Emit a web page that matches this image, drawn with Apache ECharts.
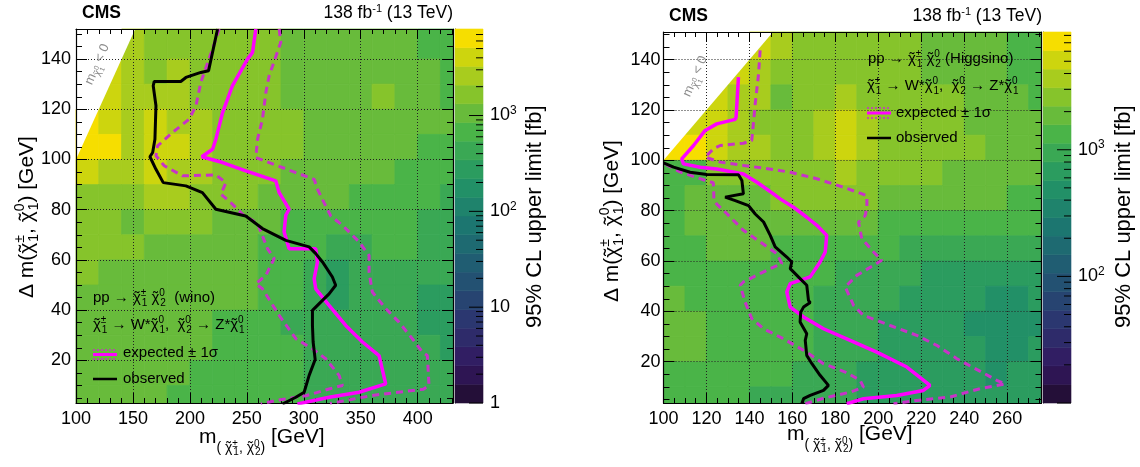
<!DOCTYPE html>
<html><head><meta charset="utf-8">
<script src="https://cdn.jsdelivr.net/npm/echarts@6/dist/echarts.min.js"></script>
<style>html,body{margin:0;padding:0;background:#fff}#c{width:1140px;height:467px}</style>
</head><body><div id="c"></div>
<script>
const FONT = "'Liberation Sans', Arial, Helvetica, sans-serif";

// ---------------- LEFT PANEL (wino) ----------------
const leftXEdges = [100,120,140,160,180,200,220,240,260,280,300,320,340,360,380,400,420,440];
const leftYEdges = [0,10,20,30,40,50,60,70,80,90,100,110,120,130,140,160];
// 95% CL upper limit [fb], rows from top (140-160) to bottom (0-10)
const leftLimitRows = [
  [null,null,2600,1650,1650,1650,1650,1650,1650,1050,1050,1050,1050,1050,1050,680,680],
  [null,4100,2600,1650,2600,1650,1650,1650,1650,1050,1050,1050,1050,1050,1050,1050,680],
  [null,4100,2600,2600,2600,1650,1650,1650,1650,1050,1050,1050,1050,1650,1050,1050,680],
  [6300,4100,2600,4100,2600,2600,1650,1650,1650,1650,1050,1050,1050,1050,1050,1050,1050],
  [6300,6300,2600,4100,4100,2600,1650,1650,1650,1650,1050,1050,1050,1050,1050,680,680],
  [4100,2600,2600,4100,2600,2600,1650,1650,1650,1050,1050,1050,1050,1050,680,680,680],
  [1650,1650,1650,2600,2600,1650,1650,1650,1050,1050,1050,1050,680,680,680,680,430],
  [1650,1650,1050,1650,1650,1650,1050,1050,1050,680,680,680,680,680,680,430,430],
  [1650,1650,1650,1050,1050,1050,1050,1050,680,680,680,430,430,680,680,430,430],
  [1650,1050,1050,1050,1050,1050,1050,1050,680,680,430,280,430,430,430,430,430],
  [1050,1050,1050,1050,1050,1050,1050,1050,680,680,430,280,430,430,430,280,280],
  [1050,1050,1050,1050,1050,1050,680,680,680,430,430,430,430,430,430,280,280],
  [1050,1050,1050,1050,1050,1050,680,680,680,680,430,430,430,430,430,430,280],
  [1050,1050,1050,1050,1050,680,680,680,680,680,430,430,430,430,430,430,430],
  [1050,1050,1050,1050,680,680,680,680,680,680,430,430,430,430,430,430,430]
];
const leftLevels = [1,1.567,2.456,3.849,6.034,9.457,14.82,23.23,36.41,57.07,89.44,140.2,219.7,344.4,539.8,845.9,1326,2078,3256,5104,7998];
const leftColorbarTicks = [1,2,3,4,5,6,7,8,9,10,20,30,40,50,60,70,80,90,100,200,300,400,500,600,700,800,900,1000,2000,3000,4000,5000,6000,7000];
const leftUnphysical = [[100,100],[152,152],[100,152]];
const leftObserved = [[224.3,152],[216.4,135.4],[209.6,134.7],[196.5,132.7],[192,131.1],[168.7,131.1],[167.8,129.4],[170.2,121.4],[169.3,108.1],[167.3,102.8],[164.9,101.1],[170.2,96.1],[176.6,90.8],[196.5,89.5],[211,86.8],[222.8,80.2],[249,77.5],[263.7,72.5],[284.2,67.8],[304.7,65.2],[310.5,62.5],[316.4,59.2],[325.1,53.2],[328,49.9],[322.2,46.5],[316.4,43.9],[307.6,39.9],[307.6,33.9],[308.2,27.3],[310,20.3],[304.7,14],[300.3,7.3],[293,5.3],[281.3,2.6]];
const leftExpected = [[257.9,152],[255,142.7],[250.6,140],[237.4,129.4],[228.7,118.7],[222.8,108.1],[219.9,104.1],[210.5,101.1],[228.7,98.8],[249.1,95.5],[275.4,91.5],[278.4,86.8],[287.1,80.2],[284.2,77.8],[282.7,71.2],[287.1,64.5],[310.5,64.5],[312,59.2],[309.1,52.5],[310.5,48.5],[322.2,41.9],[336.8,33.9],[351.5,27.3],[366.1,21.9],[371.9,10.6],[348.5,7.3],[322.2,5.3],[294.4,2.6]];
const leftExpectedMinus = [[225.7,152],[219.9,144],[212.6,134.7],[209.6,130.7],[205.3,121.4],[199.4,116.1],[184.8,110.8],[171.6,105.4],[170.2,101.5],[177.5,97.5],[193.6,93.5],[222.8,93.9],[231.6,90.8],[227.2,86.2],[236,82.8],[246.2,78.2],[259.4,74.5],[268.1,64.5],[274,60.5],[266.7,53.9],[257.9,50.5],[263.7,48.5],[278.4,37.9],[293,28.6],[307.6,24.6],[319.3,20.6],[331,14],[333.9,10],[322.2,8.6],[301.8,5.9],[275.4,4],[262.3,2.6]];
const leftExpectedPlus = [[278.4,152],[279.8,146.7],[269.6,133.4],[266.7,126.7],[263.7,116.1],[259.4,108.1],[257.9,100.8],[269.6,98.8],[293,94.8],[309.1,92.1],[312,88.2],[317.8,82.8],[323.7,77.5],[333.9,73.8],[348.5,67.2],[357.3,61.8],[357.3,55.2],[360.2,47.2],[371.9,40.6],[383.6,35.2],[395.3,28.6],[404.1,23.3],[408.5,21.9],[409.9,10],[405,8.5],[360,6],[323,2.8]];

// ---------------- RIGHT PANEL (Higgsino) ----------------
const rightXEdges = [100,110,120,130,140,150,160,170,180,190,200,210,220,230,240,250,260,270,280];
const rightYEdges = [0,10,20,30,40,50,60,70,80,90,100,110,120,130,140,160];
const rightLimitRows = [
  [null,null,null,null,5100,3650,2600,2600,2600,2600,2600,2600,1850,1850,1850,1850,1330,1330],
  [null,null,null,5100,3650,2600,2600,2600,2600,2600,2600,2600,1850,1850,1850,1850,1330,1330],
  [null,null,5100,3650,3650,1850,2600,2600,3650,2600,2600,2600,2600,2600,1850,1850,1850,1330],
  [null,5100,5100,3650,2600,2600,2600,3650,5100,3650,2600,2600,2600,2600,1850,1850,1850,1850],
  [7200,7200,5100,3650,3650,2600,2600,3650,5100,3650,2600,2600,2600,2600,2600,1850,1850,1850],
  [1330,1330,2600,2600,2600,2600,2600,2600,3650,2600,2600,2600,2600,1850,1850,1850,1850,1850],
  [1330,1850,1850,1850,1850,2600,2600,2600,2600,2600,1850,1850,1850,1850,1850,1850,1330,1330],
  [1330,1850,1850,1850,1850,1850,1850,1850,1850,1850,1330,1330,1330,1330,1330,1330,1330,1330],
  [1330,1330,1850,1850,1850,1330,1330,1330,1330,1330,1330,950,950,950,950,950,950,950],
  [1330,1330,1330,1330,1330,1330,1330,1330,950,950,950,950,680,680,680,680,680,680],
  [1850,1330,1330,1330,1330,1330,1330,950,950,950,950,680,680,680,680,480,480,680],
  [1850,1850,1330,1330,1330,1330,1330,950,950,950,680,680,680,680,480,480,480,480],
  [1850,1850,1330,1330,1330,1330,1330,950,950,950,680,680,680,680,680,480,480,680],
  [1330,1330,1330,1330,1330,1330,950,950,950,680,680,680,680,680,680,480,680,680],
  [1330,1330,1330,1330,950,950,950,950,950,680,680,680,680,680,680,680,680,680]
];
const rightLevels = [10,14.01,19.63,27.51,38.55,54.01,75.68,106.1,148.6,208.2,291.7,408.8,572.8,802.6,1125,1576,2208,3094,4335,6074,8511];
const rightColorbarTicks = [10,20,30,40,50,60,70,80,90,100,200,300,400,500,600,700,800,900,1000,2000,3000,4000,5000,6000,7000,8000];
const rightUnphysical = [[100,100],[151,151],[100,151]];
const rightObserved = [[100,99],[104.7,97.3],[112.4,95.3],[120.2,94.4],[134.9,94.3],[136.5,92],[137.2,86.7],[128.7,85.4],[133.4,84],[139.6,82],[142.7,78.7],[146.6,75.5],[149.7,70.2],[152,65.6],[157.4,61.6],[159.7,59.6],[159,57],[163.6,53],[166.7,50.4],[167.5,44.4],[168.3,43.5],[165.2,41.7],[163.9,39.7],[163.6,35.8],[166.7,31.1],[166,28.5],[166.7,22.5],[169.1,19.2],[172.9,14.6],[176.8,10.6],[174.5,8.6],[168.3,6.6],[165.2,5.3],[164.4,3.3]];
const rightExpected = [[134.9,133.1],[133.8,117.2],[133.4,116.3],[124.8,114.5],[119.4,111.9],[114,105.9],[108.5,100.6],[109.3,98.6],[117.1,97.3],[124.8,96.6],[137.2,94.6],[143.5,91.3],[151.2,86.7],[154.3,84.7],[160.5,81.4],[166.7,77.4],[171.4,74.2],[176,70.2],[175.3,63.6],[172.9,59.6],[168.3,53.7],[159,51],[157.4,47.7],[159,41.7],[165.2,37.8],[174.5,33.1],[186.9,28.5],[199.3,23.8],[213.3,17.9],[224.1,10.6],[221,8.6],[208.6,6.6],[193.1,5.3],[185.3,3.3]];
const rightExpectedMinus = [[101,98.5],[107.7,95.4],[119.3,92.1],[123.2,91.1],[123.5,84.2],[124.8,82.6],[129.4,78.9],[137.2,72.2],[145,67.6],[152.8,62.9],[155.1,59],[149.7,57],[137.2,51.7],[135.7,50.4],[138,43.7],[141.1,37.1],[146.6,33.1],[155.9,29.1],[166.7,23.8],[174.5,19.2],[184.6,15.9],[191.6,12.6],[193.1,9.9],[186.9,7.9],[174.5,5.5],[166,3.3]];
const rightExpectedPlus = [[145,143.7],[144.2,133.8],[142.7,122.5],[141.1,107.9],[137.2,106.8],[126.4,105.9],[123.3,104.6],[119.4,101.3],[126.4,99.3],[137.2,98],[146.6,96.9],[159,95.3],[171.4,92.7],[183.8,89.3],[194.7,86],[194.7,81.4],[193.9,78],[190.8,75.5],[192.3,68.9],[197.8,63.6],[201.6,60.3],[197.8,58.3],[190,54.3],[184.6,49.7],[188.5,42.4],[193.1,38.4],[205.5,34.4],[217.9,30.5],[227.2,26.5],[236.6,21.2],[255.2,12.6],[259.1,11.2],[247.4,9.3],[233.5,6],[217.9,4.6],[207.1,3.3]];

// ---------------- styling ----------------
const palette = ['#240f38','#2e1553','#311e63','#2e2b6a','#2b3770','#274471','#235172','#205d72','#1e6a71','#1c7670','#1f836c','#229067','#2b9c5f','#3aa854','#4ab448','#68bb3b','#86c42b','#a8cc1e','#cdd50e','#f6de00'];
const MAG = '#ff00ff', MAGD = '#c832c8';

function bandColor(v, levels) {
  for (let i = levels.length - 2; i >= 0; i--) if (v >= levels[i]) return palette[i];
  return palette[0];
}
function buildCells(xEdges, yEdges, rows) {
  const out = [];
  rows.forEach((row, r) => {
    const j = rows.length - 1 - r;
    row.forEach((v, i) => { if (v != null) out.push([xEdges[i], xEdges[i+1], yEdges[j], yEdges[j+1], v]); });
  });
  return out;
}
function heatSeries(xi, yi, xEdges, yEdges, rows, levels) {
  return {
    type:'custom', xAxisIndex:xi, yAxisIndex:yi, z:-2, silent:true, animation:false,
    data: buildCells(xEdges, yEdges, rows), encode:{x:[0,1], y:[2,3]},
    renderItem:(params, api) => {
      const a = api.coord([api.value(0), api.value(3)]);
      const b = api.coord([api.value(1), api.value(2)]);
      const cs = params.coordSys;
      const shape = echarts.graphic.clipRectByRect({x:a[0], y:a[1], width:b[0]-a[0], height:b[1]-a[1]}, {x:cs.x, y:cs.y, width:cs.width, height:cs.height});
      if (!shape) return null;
      const col = bandColor(api.value(4), levels);
      return {type:'rect', shape, style:{fill:col, stroke:col, lineWidth:0.8}};
    }
  };
}
function whiteTri(xi, yi, pts) {
  return {type:'custom', xAxisIndex:xi, yAxisIndex:yi, z:-1, silent:true, animation:false, data:[0],
    renderItem:(params, api) => ({type:'polygon', shape:{points: pts.map(p => api.coord(p))}, style:{fill:'#fff'}})};
}
function lineSeries(xi, yi, data, color, width, type) {
  return {type:'line', xAxisIndex:xi, yAxisIndex:yi, data, showSymbol:false, symbol:'none', silent:true, animation:false, z:5,
    lineStyle:{color, width, type}, clip:true};
}
function cbBands(xi, yi, levels) {
  const data = levels.slice(0, -1).map((l, i) => [Math.log10(l), Math.log10(levels[i+1]), i]);
  return {type:'custom', xAxisIndex:xi, yAxisIndex:yi, silent:true, animation:false, data, encode:{y:[0,1]},
    renderItem:(params, api) => {
      const a = api.coord([0, api.value(1)]); const b = api.coord([1, api.value(0)]);
      const col = palette[api.value(2)];
      return {type:'rect', shape:{x:a[0], y:a[1], width:b[0]-a[0], height:b[1]-a[1]}, style:{fill:col, stroke:col, lineWidth:0.6}};
    }};
}
function cbTicks(xi, yi, ticks) {
  const data = ticks.map(t => [Math.log10(t)]);
  return {type:'custom', xAxisIndex:xi, yAxisIndex:yi, silent:true, animation:false, z:4, data, encode:{y:0},
    renderItem:(params, api) => {
      const lv = api.value(0); const p = api.coord([1, lv]);
      const major = Math.abs(lv - Math.round(lv)) < 1e-6;
      const len = major ? 14 : 7;
      return {type:'line', shape:{x1:p[0]-len, y1:p[1], x2:p[0], y2:p[1]}, style:{stroke:'#000', lineWidth:1}};
    }};
}

const tickLine = {color:'#000', width:1};
function xAxisDef(g, min, max, interval, minorSplit, top) {
  return {gridIndex:g, type:'value', min, max, interval, position: top ? 'top' : 'bottom',
    axisLine:{show:true, onZero:false, lineStyle:{color:'#000', width:1.2}},
    axisTick:{show:true, inside:true, length:10, lineStyle:tickLine},
    minorTick:{show:true, splitNumber:minorSplit, length:5, lineStyle:tickLine},
    splitLine:{show:!top, lineStyle:{color:'#222', width:1, type:[1,2]}},
    axisLabel:{show:!top, fontSize:18, fontFamily:FONT, color:'#000', margin:7,
      formatter:(v) => (Math.abs(v % interval) < 1e-9 ? String(v) : '')}};
}
function yAxisDef(g, min, max, right, margin) {
  return {gridIndex:g, type:'value', min, max, splitNumber:7, position: right ? 'right' : 'left',
    axisLine:{show:true, onZero:false, lineStyle:{color:'#000', width:1.2}},
    axisTick:{show:true, inside:true, length:11, lineStyle:tickLine},
    minorTick:{show:true, splitNumber:4, length:6, lineStyle:tickLine},
    splitLine:{show:!right, lineStyle:{color:'#222', width:1, type:[1,2]}},
    axisLabel:{show:!right, fontSize:18, fontFamily:FONT, color:'#000', margin,
      formatter:(v) => (Math.abs(v % 20) < 1e-9 ? String(v) : '')}};
}
const cbRich = {n:{fontSize:18, fontFamily:FONT, color:'#000'}, e:{fontSize:12, fontFamily:FONT, color:'#000', padding:[0,0,10,0]}};
function cbYAxis(g, levels, hideTen) {
  return {gridIndex:g, type:'value', position:'right', min:Math.log10(levels[0]), max:Math.log10(levels[levels.length-1]), interval:1,
    axisLine:{show:true, lineStyle:{color:'#222', width:1}}, axisTick:{show:false}, splitLine:{show:false},
    axisLabel:{fontSize:18, fontFamily:FONT, color:'#000', margin:7, rich:cbRich,
      formatter:(v) => { const r = Math.round(v); if (Math.abs(v - r) > 1e-6) return ''; if (r === 0) return '1'; if (r === 1) return hideTen ? '' : '10'; return '{n|10}{e|' + r + '}'; }}};
}
function cbXAxis(g) { return {gridIndex:g, type:'value', min:0, max:1, show:false}; }

// ---------------- text ----------------
// chi with tilde accent and stacked super/subscript
function chiTok(sup, sub) { return '{c|\u03c7}{t|\u02dc}{p|' + sup + '}{b|' + sub + '}'; }
function chiRich(f, shift, idx, idxShift, fill) {
  // f: chi font size, shift: vertical offset of the chi, idx: index font size, idxShift: offset of indices from chi centre
  const down = (s) => s >= 0 ? [2*s, 0, 0, 0] : [0, 0, -2*s, 0];
  const cw = 0.52 * f, tw = 0.333 * f, pad = Math.max(0, (cw - tw) / 2 - 1);
  const base = {fontFamily:FONT, fill};
  const dc = down(shift);
  return {
    c: Object.assign({}, base, {fontSize:f, width:1, padding:dc}),
    t: Object.assign({}, base, {fontSize:f, width:Math.max(1, cw - 1 - pad), padding:[dc[0], 0, dc[2], pad]}),
    p: Object.assign({}, base, {fontSize:idx, width:1, padding:down(shift - idxShift)}),
    b: Object.assign({}, base, {fontSize:idx, padding:down(shift + idxShift)})
  };
}
const richLegend = chiRich(15, 0, 10, 5, '#000');
const richXTitle = Object.assign(chiRich(14, 11, 10, 4, '#000'), {s:{fontSize:14, fontFamily:FONT, fill:'#000', padding:[22,0,0,0]}});
const richYTitle = chiRich(21, 0, 14, 7, '#000');
const richUnphys = chiRich(10, 4, 7, 3, '#8c8c8c');
const richLumi = {s:{fontSize:11, fontFamily:FONT, fill:'#000', padding:[0,0,9,0]}};

function txt(x, y, text, o) {
  o = o || {};
  return {type:'text', x, y, rotation:o.rotation || 0, silent:true, z:10,
    style:{text, fill:o.fill || '#000', fontSize:o.fontSize || 15, fontFamily:FONT, fontWeight:o.fontWeight || 'normal',
      align:o.align || 'left', verticalAlign:'middle', rich:o.rich}};
}
function seg(x1, y1, x2, y2, stroke, lineWidth, lineDash) {
  return {type:'line', silent:true, z:10, shape:{x1, y1, x2, y2}, style:{stroke, lineWidth, lineDash}};
}
const line1 = 'pp \u2192 ' + chiTok('\u00b1','1') + ' ' + chiTok('0','2');
const line2 = chiTok('\u00b1','1') + ' \u2192 W*' + chiTok('0','1') + ',  ' + chiTok('0','2') + ' \u2192 Z*' + chiTok('0','1');
const xTitle = 'm{s|( }' + chiTok('\u00b1','1') + '{s|, }' + chiTok('0','2') + '{s|)} [GeV]';
const yTitle = '\u0394 m(' + chiTok('\u00b1','1') + ', ' + chiTok('0','1') + ') [GeV]';
const unphys = 'm' + chiTok('0','1') + ' < 0';
const lumi = '138 fb{s|-1} (13 TeV)';
const cbTitle = '95% CL upper limit [fb]';
const ROT = Math.PI / 2, DIAG = 66 * Math.PI / 180;

const graphics = [
  // left
  txt(82, 13, 'CMS', {fontSize:17.5, fontWeight:'bold'}),
  txt(453, 13, lumi, {fontSize:17.5, align:'right', rich:richLumi}),
  txt(93, 298, line1 + '  (wino)', {rich:richLegend}),
  txt(93, 325, line2, {rich:richLegend}),
  seg(93, 350, 117, 350, MAGD, 1.5, [2,2]), seg(93, 359, 117, 359, MAGD, 1.5, [2,2]), seg(93, 354.5, 117, 354.5, MAG, 3),
  txt(123, 353, 'expected \u00b1 1\u03c3'),
  seg(93, 379, 117, 379, '#000', 2.5),
  txt(123, 379, 'observed'),
  txt(199, 437, xTitle, {fontSize:21, rich:richXTitle}),
  txt(27, 298, yTitle, {fontSize:21, rotation:ROT, rich:richYTitle}),
  txt(535, 328, cbTitle, {fontSize:22, rotation:ROT}),
  txt(88.5, 84, unphys, {fontSize:13, fill:'#8c8c8c', rotation:DIAG, rich:richUnphys}),
  // right
  txt(669, 16, 'CMS', {fontSize:17.5, fontWeight:'bold'}),
  txt(1042, 16, lumi, {fontSize:17.5, align:'right', rich:richLumi}),
  txt(868, 59, line1 + ' (Higgsino)', {rich:richLegend}),
  txt(867, 86, line2, {rich:richLegend}),
  seg(867, 108, 891, 108, MAGD, 1.5, [2,2]), seg(867, 118, 891, 118, MAGD, 1.5, [2,2]), seg(867, 113, 891, 113, MAG, 3),
  txt(896, 113, 'expected \u00b1 1\u03c3'),
  seg(867, 138, 891, 138, '#000', 2.5),
  txt(896, 138, 'observed'),
  txt(787, 434, xTitle, {fontSize:21, rich:richXTitle}),
  txt(612, 302, yTitle, {fontSize:21, rotation:ROT, rich:richYTitle}),
  txt(1124, 328, cbTitle, {fontSize:22, rotation:ROT}),
  txt(686.5, 96, unphys, {fontSize:13, fill:'#8c8c8c', rotation:DIAG, rich:richUnphys})
];

const option = {
  animation:false,
  backgroundColor:'#fff',
  grid:[
    {left:76, top:29, width:377, height:374},
    {left:455, top:29, width:28, height:374},
    {left:663.5, top:32, width:378, height:371},
    {left:1043, top:32, width:28, height:371}
  ],
  xAxis:[
    xAxisDef(0, 100, 431, 50, 5, false),
    xAxisDef(0, 100, 431, 50, 5, true),
    cbXAxis(1),
    xAxisDef(2, 100, 276, 20, 4, false),
    xAxisDef(2, 100, 276, 20, 4, true),
    cbXAxis(3)
  ],
  yAxis:[
    yAxisDef(0, 3, 152, false, 5),
    yAxisDef(0, 3, 152, true, 5),
    cbYAxis(1, leftLevels, false),
    yAxisDef(2, 3.6, 151, false, 3),
    yAxisDef(2, 3.6, 151, true, 3),
    cbYAxis(3, rightLevels, true)
  ],
  series:[
    heatSeries(0, 0, leftXEdges, leftYEdges, leftLimitRows, leftLevels),
    whiteTri(0, 0, leftUnphysical),
    lineSeries(0, 0, leftExpectedMinus, MAGD, 3, [7,5]),
    lineSeries(0, 0, leftExpectedPlus, MAGD, 3, [7,5]),
    lineSeries(0, 0, leftExpected, MAG, 3.5, 'solid'),
    lineSeries(0, 0, leftObserved, '#000', 3, 'solid'),
    cbBands(2, 2, leftLevels),
    cbTicks(2, 2, leftColorbarTicks),
    heatSeries(3, 3, rightXEdges, rightYEdges, rightLimitRows, rightLevels),
    whiteTri(3, 3, rightUnphysical),
    lineSeries(3, 3, rightExpectedMinus, MAGD, 3, [7,5]),
    lineSeries(3, 3, rightExpectedPlus, MAGD, 3, [7,5]),
    lineSeries(3, 3, rightExpected, MAG, 3.5, 'solid'),
    lineSeries(3, 3, rightObserved, '#000', 3, 'solid'),
    cbBands(5, 5, rightLevels),
    cbTicks(5, 5, rightColorbarTicks)
  ],
  graphic: graphics
};
const chart = echarts.init(document.getElementById('c'), null, {renderer:'canvas', width:1140, height:467});
chart.setOption(option);
</script></body></html>
